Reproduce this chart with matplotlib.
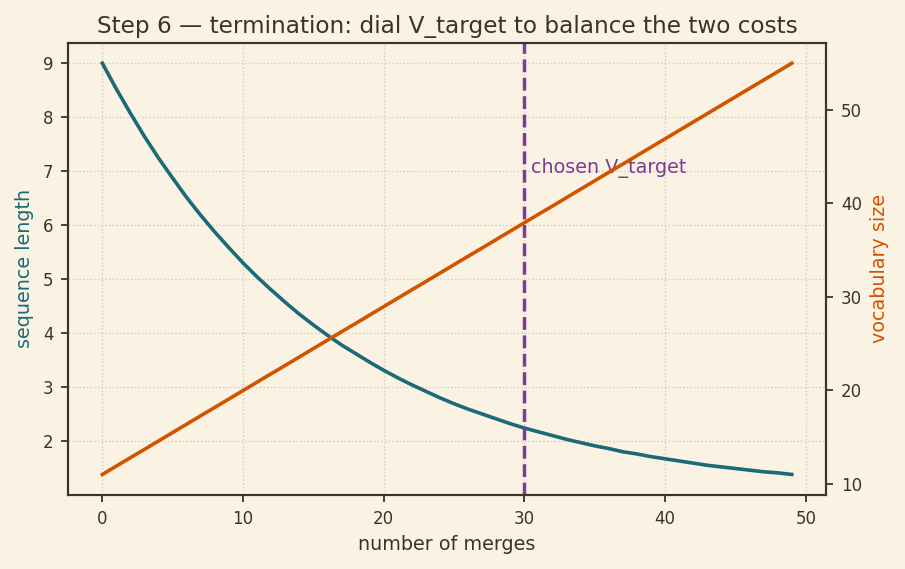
import matplotlib
matplotlib.use("Agg")
import matplotlib.pyplot as plt

merges = list(range(50))
seq_len = [9.00, 8.52, 8.07, 7.64, 7.24, 6.87, 6.51, 6.18, 5.87, 5.58,
           5.30, 5.04, 4.80, 4.57, 4.35, 4.15, 3.96, 3.78, 3.62, 3.46,
           3.31, 3.17, 3.04, 2.92, 2.80, 2.69, 2.59, 2.50, 2.41, 2.32,
           2.24, 2.17, 2.10, 2.03, 1.97, 1.91, 1.86, 1.80, 1.76, 1.71,
           1.67, 1.63, 1.59, 1.55, 1.52, 1.49, 1.46, 1.43, 1.41, 1.38]
vocab = [11.00, 11.90, 12.80, 13.69, 14.59, 15.49, 16.39, 17.29, 18.18, 19.08,
         19.98, 20.88, 21.78, 22.67, 23.57, 24.47, 25.37, 26.27, 27.16, 28.06,
         28.96, 29.86, 30.76, 31.65, 32.55, 33.45, 34.35, 35.24, 36.14, 37.04,
         37.94, 38.84, 39.73, 40.63, 41.53, 42.43, 43.33, 44.22, 45.12, 46.02,
         46.92, 47.82, 48.71, 49.61, 50.51, 51.41, 52.31, 53.20, 54.10, 55.00]
v_target = 30
label_text = "chosen V_target"

bg = "#faf3e4"
ink = "#3b342b"
teal = "#1a6a78"
orange = "#d35400"
purple = "#7d3c98"

plt.rcParams['font.family'] = ['DejaVu Sans']
fig = plt.figure(figsize=(9.05, 5.69), dpi=100, facecolor=bg)
ax1 = fig.add_axes([0.075, 0.13, 0.838, 0.795])
ax1.set_facecolor(bg)
ax2 = ax1.twinx()

ax1.plot(merges, seq_len, color=teal, lw=2.6)
ax2.plot(merges, vocab, color=orange, lw=2.6)
ax1.axvline(v_target, color=purple, lw=2.5, ls='--')
ax1.text(v_target + 0.5, 7.05, label_text, color=purple, fontsize=13.8, va='center')

ax1.grid(True, ls=':', color='#d3cbbb', lw=1)
ax1.set_xticks([0, 10, 20, 30, 40, 50])
ax1.set_yticks(range(2, 10))
ax2.set_yticks([10, 20, 30, 40, 50])

for ax in (ax1, ax2):
    for s in ax.spines.values():
        s.set_color(ink)
        s.set_linewidth(1.5)
    ax.tick_params(colors=ink, labelsize=12, length=5, width=1.3, pad=5.5)

ax1.set_xlabel("number of merges", color=ink, fontsize=13.8, labelpad=5)
ax1.set_ylabel("sequence length", color=teal, fontsize=13.8, labelpad=6)
ax2.set_ylabel("vocabulary size", color=orange, fontsize=13.8, labelpad=6)
ax1.set_title("Step 6 — termination: dial V_target to balance the two costs",
              color=ink, fontsize=16.7, pad=7)

fig.savefig("out.png", dpi=100, facecolor=bg)
